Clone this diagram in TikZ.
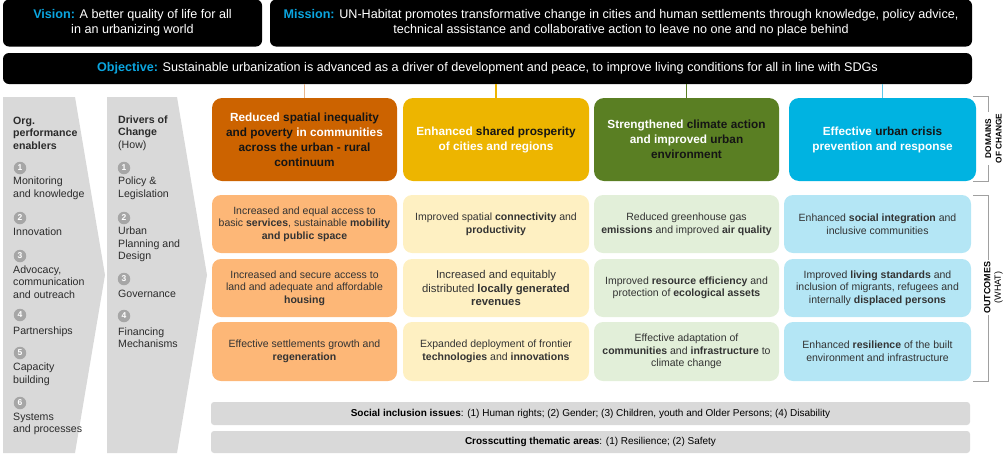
\documentclass[tikz,border=0pt]{standalone}
\usepackage{fontspec}
\setmainfont{Liberation Sans}
\usetikzlibrary{calc}
\definecolor{cyanlbl}{HTML}{0BA5DF}
\definecolor{dorange}{HTML}{CC6300}
\definecolor{dyellow}{HTML}{EDB500}
\definecolor{dgreen}{HTML}{5A7F23}
\definecolor{dcyan}{HTML}{00B3E1}
\definecolor{oorange}{HTML}{FDB777}
\definecolor{oyellow}{HTML}{FEF0C2}
\definecolor{ogreen}{HTML}{E2EFD9}
\definecolor{ocyan}{HTML}{B4E6F5}
\definecolor{lnorange}{HTML}{E9B68A}
\definecolor{lncyan}{HTML}{5CC8EA}
\definecolor{chevgray}{HTML}{D9D9D9}
\definecolor{numgray}{HTML}{A6A6A6}
\definecolor{coltext}{HTML}{2B2B2B}
\definecolor{outtext}{HTML}{333333}
\definecolor{domtext}{HTML}{151515}
\definecolor{brkgray}{HTML}{A0A0A0}
\newcommand\fs[2]{\fontsize{#1}{#2}\selectfont}
\newcommand\wt[1]{\textcolor{white}{#1}}
\begin{document}
\begin{tikzpicture}[x=1pt,y=-1pt,
  blackbox/.style={fill=black, rounded corners=6pt, inner sep=0pt, align=center, text=white, font=\fs{12.6}{15}},
  dom/.style={rounded corners=10pt, align=center, inner sep=0pt, font=\bfseries\fs{11.8}{15}, text=domtext, minimum height=83pt},
  outc/.style={rounded corners=9pt, align=center, inner sep=0pt, font=\fs{10.5}{12.6}, text=outtext},
  num/.style={circle, fill=numgray, text=white, font=\bfseries\fs{8.5}{8.5}, minimum size=12.5pt, inner sep=0pt},
  coltxt/.style={anchor=west, align=left, inner sep=0pt, font=\fs{10.6}{12.5}, text=coltext},
  bar/.style={fill=chevgray, rounded corners=3pt, minimum width=759pt, inner sep=0pt, font=\fs{10}{12}, text=black},
  brk/.style={draw=brkgray, line width=1pt},
  brklbl/.style={rotate=90, fill=white, align=center, inner sep=1.5pt, text=black}]
\useasboundingbox (0,0) rectangle (1007,453);

% top black boxes
\node[blackbox, minimum width=259pt, minimum height=47pt] (vision) at (132.5,23) {\textcolor{cyanlbl}{\bfseries Vision:} A better quality of life for all\\in an urbanizing world};
\node[blackbox, minimum width=702pt, minimum height=47pt] (mission) at (621,23) {\textcolor{cyanlbl}{\bfseries Mission:} UN-Habitat promotes transformative change in cities and human settlements through knowledge, policy advice,\\technical assistance and collaborative action to leave no one and no place behind};
\node[blackbox, minimum width=969pt, minimum height=31pt] (obj) at (487.5,68.5) {\textcolor{cyanlbl}{\bfseries Objective:} Sustainable urbanization is advanced as a driver of development and peace, to improve living conditions for all in line with SDGs};

% chevrons
\fill[chevgray] (3,97) -- (75,97) -- (105,275) -- (75,453) -- (3,453) -- cycle;
\fill[chevgray] (107,97) -- (177,97) -- (207,275) -- (177,453) -- (107,453) -- cycle;

% column 1
\node[coltxt, font=\bfseries\fs{10.6}{12.5}] (h1) at (13,133) {Org.\\performance\\enablers};
\node[num] (a1) at (20,168) {1};
\node[coltxt] (t1) at (13,188.5) {Monitoring\\and knowledge};
\node[num] (a2) at (20,218) {2};
\node[coltxt] (t2) at (13,232) {Innovation};
\node[num] (a3) at (20,256) {3};
\node[coltxt] (t3) at (13,282) {Advocacy,\\communication\\and outreach};
\node[num] (a4) at (20,315) {4};
\node[coltxt] (t4) at (13,332) {Partnerships};
\node[num] (a5) at (20,353) {5};
\node[coltxt] (t5) at (13,374.5) {Capacity\\building};
\node[num] (a6) at (20,403) {6};
\node[coltxt] (t6) at (13,424) {Systems\\and processes};

% column 2
\node[coltxt] (h2) at (118,133) {\textbf{Drivers of}\\\textbf{Change}\\(How)};
\node[num] (b1n) at (124,168) {1};
\node[coltxt] (s1) at (118,188.5) {Policy \&\\Legislation};
\node[num] (b2n) at (124,218) {2};
\node[coltxt] (s2) at (118,244.5) {Urban\\Planning and\\Design};
\node[num] (b3n) at (124,279) {3};
\node[coltxt] (s3) at (118,294) {Governance};
\node[num] (b4n) at (124,316) {4};
\node[coltxt] (s4) at (118,337.5) {Financing\\Mechanisms};

% domains of change
\node[dom, fill=dorange, minimum width=185pt] (d1) at (304.5,139.5) {\wt{Reduced} spatial inequality\\and poverty \wt{in communities}\\across the urban - rural\\continuum};
\node[dom, fill=dyellow, minimum width=186pt] (d2) at (496,139.5) {\wt{Enhanced} shared prosperity\\\wt{of cities and regions}};
\node[dom, fill=dgreen, minimum width=185pt] (d3) at (686.5,139.5) {\wt{Strengthened} climate action\\\wt{and improved} urban\\environment};
\node[dom, fill=dcyan, minimum width=187pt] (d4) at (882.5,139.5) {\wt{Effective} urban crisis\\\wt{prevention and response}};

\draw[line width=1.2pt, lnorange] (d1.north) -- (d1.north |- obj.south);
\draw[line width=1.2pt, dyellow] (d2.north) -- (d2.north |- obj.south);
\draw[line width=1.2pt, dgreen] (d3.north) -- (d3.north |- obj.south);
\draw[line width=1.2pt, lncyan] (d4.north) -- (d4.north |- obj.south);

% outcomes
\node[outc, fill=oorange, minimum width=185pt, minimum height=58pt] (o11) at (304.5,224) {Increased and equal access to\\basic \textbf{services}, sustainable \textbf{mobility}\\\textbf{and public space}};
\node[outc, fill=oorange, minimum width=185pt, minimum height=58pt] (o21) at (304.5,288) {Increased and secure access to\\land and adequate and affordable\\\textbf{housing}};
\node[outc, fill=oorange, minimum width=185pt, minimum height=59pt] (o31) at (304.5,351.5) {Effective settlements growth and\\\textbf{regeneration}};

\node[outc, fill=oyellow, minimum width=186pt, minimum height=58pt] (o12) at (496,224) {Improved spatial \textbf{connectivity} and\\\textbf{productivity}};
\node[outc, fill=oyellow, minimum width=186pt, minimum height=58pt, font=\fs{11.3}{13.3}] (o22) at (496,288) {Increased and equitably\\distributed \textbf{locally generated}\\\textbf{revenues}};
\node[outc, fill=oyellow, minimum width=186pt, minimum height=59pt] (o32) at (496,351.5) {Expanded deployment of frontier\\\textbf{technologies} and \textbf{innovations}};

\node[outc, fill=ogreen, minimum width=185pt, minimum height=58pt] (o13) at (686.5,224) {Reduced greenhouse gas\\\textbf{emissions} and improved \textbf{air quality}};
\node[outc, fill=ogreen, minimum width=185pt, minimum height=58pt] (o23) at (686.5,288) {Improved \textbf{resource efficiency} and\\protection of \textbf{ecological assets}};
\node[outc, fill=ogreen, minimum width=185pt, minimum height=59pt] (o33) at (686.5,351.5) {Effective adaptation of\\\textbf{communities} and \textbf{infrastructure} to\\climate change};

\node[outc, fill=ocyan, minimum width=187pt, minimum height=58pt] (o14) at (877.5,224) {Enhanced \textbf{social integration} and\\inclusive communities};
\node[outc, fill=ocyan, minimum width=187pt, minimum height=58pt] (o24) at (877.5,288) {Improved \textbf{living standards} and\\inclusion of migrants, refugees and\\internally \textbf{displaced persons}};
\node[outc, fill=ocyan, minimum width=187pt, minimum height=59pt] (o34) at (877.5,351.5) {Enhanced \textbf{resilience} of the built\\environment and infrastructure};

% brackets
\draw[brk] (973,96) -- (988,96) -- (988,181) -- (973,181);
\node[brklbl, font=\bfseries\fs{8.3}{10.5}] (dlbl) at (993.5,138.5) {DOMAINS\\OF CHANGE};
\draw[brk] (973,195) -- (988,195) -- (988,381) -- (973,381);
\node[brklbl, font=\fs{9}{10.5}] (olbl) at (993.5,287.5) {\textbf{OUTCOMES}\\(WHAT)};

% bottom bars
\node[bar, minimum height=23pt] (bar1) at (590.5,413.5) {\textbf{Social inclusion issues}: (1) Human rights; (2) Gender; (3) Children, youth and Older Persons; (4) Disability};
\node[bar, minimum height=22pt] (bar2) at (590.5,442) {\textbf{Crosscutting thematic areas}: (1) Resilience; (2) Safety};
\end{tikzpicture}
\end{document}
